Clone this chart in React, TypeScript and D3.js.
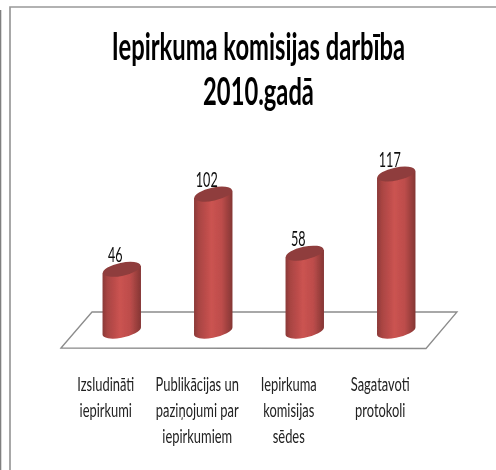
import React from "react";
import * as d3 from "d3";

const categories = ["Izsludināti iepirkumi", "Publikācijas un paziņojumi par iepirkumiem", "Iepirkuma komisijas sēdes", "Sagatavoti protokoli"];
const labelLines = [["Izsludināti", "iepirkumi"], ["Publikācijas un", "paziņojumi par", "iepirkumiem"], ["Iepirkuma", "komisijas", "sēdes"], ["Sagatavoti", "protokoli"]];
const values = [46, 102, 58, 117];
const titleLines = ["Iepirkuma komisijas darbība", "2010.gadā"];

const W = 496, H = 470;
const x = d3.scaleBand<string>().domain(categories).range([76, 442]).paddingInner(0.58).paddingOuter(0.29);
const y = d3.scaleLinear().domain([0, 117]).range([331, 174]);
const font = "Lato,'Open Sans',sans-serif";
const tilt = -12;

function Squeezed({ x: tx, y: ty, sx, children, ...rest }: any) {
  return <text transform={`translate(${tx} ${ty}) scale(${sx} 1)`} {...rest}>{children}</text>;
}

export default function App() {
  const rx = x.bandwidth() / 2;
  const ry = 6.5;
  const rad = (tilt * Math.PI) / 180;
  const dy = ((rx * rx - ry * ry) * Math.sin(rad) * Math.cos(rad)) / Math.hypot(rx * Math.cos(rad), ry * Math.sin(rad));
  const floor = d3.line()([[61, 348], [92, 312], [457, 312], [426, 348.5]]) + "Z";
  return (
    <svg width={W} height={H} viewBox={`0 0 ${W} ${H}`} style={{ position: "absolute", left: 0, top: 0, background: "#fff" }}>
      <defs>
        <linearGradient id="cyl" x1="0" x2="1" y1="0" y2="0">
          <stop offset="0" stopColor="#8a3937" />
          <stop offset="0.12" stopColor="#a84442" />
          <stop offset="0.45" stopColor="#cb5351" />
          <stop offset="0.72" stopColor="#bd4d4b" />
          <stop offset="1" stopColor="#843634" />
        </linearGradient>
        <filter id="soft" x="-5%" y="-5%" width="110%" height="110%"><feGaussianBlur stdDeviation="0.35" /></filter>
      </defs>
      <path d="M0.5 10V470" fill="none" stroke="#808080" strokeWidth={1.6} />
      <path d="M10 470V7H496" fill="none" stroke="#999999" strokeWidth={1.7} />
      <g fontFamily={font} textAnchor="middle" fill="#000" filter="url(#soft)">
        {titleLines.map((t, i) => (
          <Squeezed key={t} x={258.5} y={60 + i * 45} sx={0.625} fontSize={38} fontWeight={700}>{t}</Squeezed>
        ))}
      </g>
      <path d={floor} fill="#fff" stroke="#8c8c8c" strokeWidth={1.3} />
      {categories.map((c, i) => {
        const cx = x(c)! + rx;
        const top = y(values[i]);
        const base = y(0);
        const body = `M${cx - rx} ${top - dy}L${cx + rx} ${top + dy}L${cx + rx} ${base + dy}A${rx} ${ry} ${tilt} 0 1 ${cx - rx} ${base - dy}Z`;
        return (
          <g key={c} filter="url(#soft)">
            <path d={body} fill="url(#cyl)" />
            <ellipse cx={cx} cy={top} rx={rx} ry={ry} transform={`rotate(${tilt} ${cx} ${top})`} fill="#8f3e3c" />
            <Squeezed x={cx - 6.5} y={top - 7.5} sx={0.6} fontFamily={font} fontSize={21} textAnchor="middle" fill="#111">{values[i]}</Squeezed>
          </g>
        );
      })}
      <g fontFamily={font} fontSize={19} textAnchor="middle" fill="#222" filter="url(#soft)">
        {categories.map((c, i) =>
          labelLines[i].map((l, j) => (
            <Squeezed key={l} x={x(c)! + rx - 16} y={391 + j * 26} sx={0.68}>{l}</Squeezed>
          ))
        )}
      </g>
    </svg>
  );
}
